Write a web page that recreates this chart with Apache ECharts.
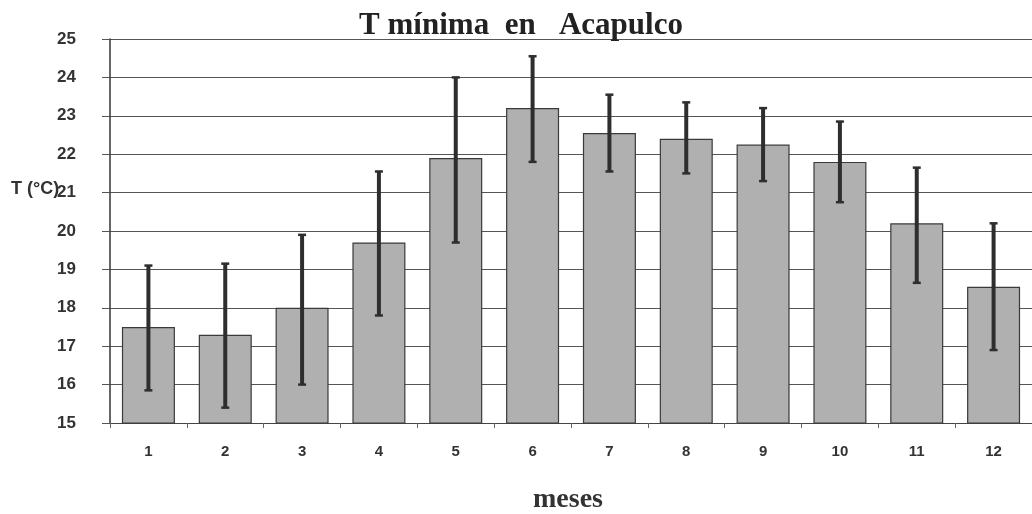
<!DOCTYPE html>
<html><head><meta charset="utf-8">
<script src="https://cdn.jsdelivr.net/npm/echarts@6/dist/echarts.min.js"></script>
<style>html,body{margin:0;padding:0;background:#fff}#c{width:1032px;height:514px}</style>
</head><body><div id="c"></div>
<script>
var months = ['1','2','3','4','5','6','7','8','9','10','11','12'];
var tmin = [17.5, 17.3, 18.0, 19.7, 21.9, 23.2, 22.55, 22.4, 22.25, 21.8, 20.2, 18.55];
var errHigh = [19.1, 19.15, 19.9, 21.55, 24.0, 24.55, 23.55, 23.35, 23.2, 22.85, 21.65, 20.2];
var errLow = [15.85, 15.4, 16.0, 17.8, 19.7, 21.8, 21.55, 21.5, 21.3, 20.75, 18.65, 16.9];
var yTicks = [15,16,17,18,19,20,21,22,23,24,25];

var errData = months.map(function(m,i){ return [i, errLow[i], errHigh[i]]; });

var chart = echarts.init(document.getElementById('c'));
chart.setOption({
  animation: false,
  title: {
    text: 'T mínima  en   Acapulco',
    left: 516, top: 5, textAlign: 'center',
    textStyle: {fontFamily: 'Liberation Serif', fontWeight: 'bold', fontSize: 31, color: '#222'}
  },
  graphic: [
    {type:'text', left: 11, top: 180, style:{text:'T (°C)', font:'bold 18px "Liberation Sans"', fill:'#333'}},
    {type:'text', left: 533, top: 486, style:{text:'meses', font:'bold 28px "Liberation Serif"', fill:'#333'}}
  ],
  grid: {left: 110, top: 39, width: 929, height: 384},
  xAxis: {
    type: 'category', data: months,
    axisLine: {lineStyle: {color: '#444', width: 1}},
    axisTick: {show: true, length: 5, lineStyle: {color: '#666'}},
    axisLabel: {margin: 21, fontFamily: 'Liberation Sans', fontWeight: 'bold', fontSize: 15, color: '#333'}
  },
  yAxis: {
    type: 'value', min: 15, max: 25, interval: 1,
    axisLine: {show: true, lineStyle: {color: '#333', width: 1.5}},
    axisTick: {show: true, length: 8, lineStyle: {color: '#555'}},
    splitLine: {lineStyle: {color: '#555', width: 1}},
    axisLabel: {margin: 34, fontFamily: 'Liberation Sans', fontWeight: 'bold', fontSize: 17, color: '#333',
      formatter: function(v){ return yTicks.indexOf(v) >= 0 ? String(v) : ''; }}
  },
  series: [
    {
      type: 'bar', data: tmin, barCategoryGap: '31%',
      itemStyle: {color: '#b0b0b0', borderColor: '#3a3a3a', borderWidth: 1.2},
      z: 2
    },
    {
      type: 'custom', data: errData, z: 5,
      renderItem: function(params, api){
        var x = api.value(0);
        var lo = api.coord([x, api.value(1)]);
        var hi = api.coord([x, api.value(2)]);
        var c = '#2e2e2e';
        return {type:'group', children:[
          {type:'line', shape:{x1:lo[0], y1:lo[1], x2:hi[0], y2:hi[1]}, style:{stroke:c, lineWidth:4}},
          {type:'line', shape:{x1:hi[0]-4, y1:hi[1], x2:hi[0]+4, y2:hi[1]}, style:{stroke:c, lineWidth:2.5}},
          {type:'line', shape:{x1:lo[0]-4, y1:lo[1], x2:lo[0]+4, y2:lo[1]}, style:{stroke:c, lineWidth:2.5}}
        ]};
      }
    }
  ]
});
</script></body></html>
